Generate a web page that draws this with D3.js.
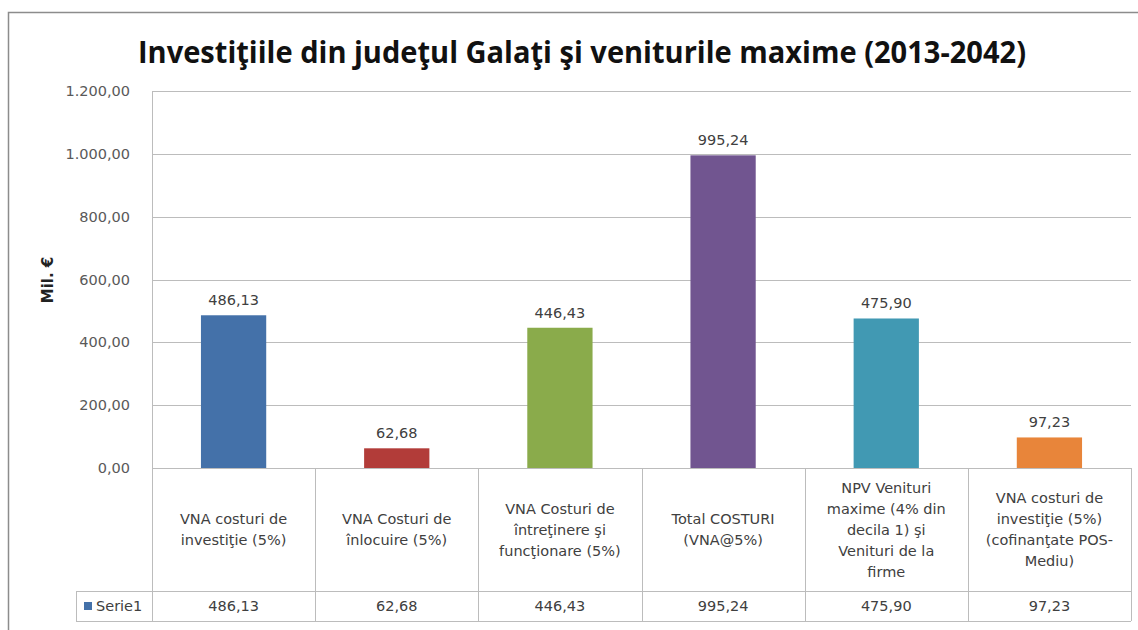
<!DOCTYPE html>
<html><head><meta charset="utf-8">
<script src="https://cdn.jsdelivr.net/npm/d3@7"></script>
<style>body{margin:0;background:#fff}svg{display:block}</style>
</head><body><svg id="c" width="1138" height="630"></svg>
<script>
// ---- data ----
const categoryLines = [
  ["VNA costuri de", "investiţie (5%)"],
  ["VNA Costuri de", "înlocuire (5%)"],
  ["VNA Costuri de", "întreţinere şi", "funcţionare (5%)"],
  ["Total COSTURI", "(VNA@5%)"],
  ["NPV Venituri", "maxime (4% din", "decila 1) şi", "Venituri de la", "firme"],
  ["VNA costuri de", "investiţie (5%)", "(cofinanţate POS-", "Mediu)"]
];
const categories = categoryLines.map(l => l.join(" "));
const values = [486.13, 62.68, 446.43, 995.24, 475.90, 97.23];
const barColors = ["#4471A9", "#B23C39", "#8AAB4B", "#715590", "#4199B3", "#E8853A"];
const yTicks = [0, 200, 400, 600, 800, 1000, 1200];
const seriesName = "Serie1";
const titleText = "Investiţiile din judeţul Galaţi şi veniturile maxime (2013-2042)";
const yTitle = "Mil. €";

// ---- layout ----
const svg = d3.select("#c");
const L = 152, R = 1131, T = 91, B = 468;
const rowCat = 591, rowEnd = 621, legendLeft = 76;
const fontBody = "'DejaVu Sans', sans-serif";

const loc = d3.formatLocale({decimal: ",", thousands: ".", grouping: [3], currency: ["", ""]});
const fmt = loc.format(",.2f");

const x = d3.scaleBand().domain(categories).range([L, R]).paddingInner(0).paddingOuter(0);
const y = d3.scaleLinear().domain([0, 1200]).range([B, T]);

// outer frame
svg.append("rect").attr("x", 8.5).attr("y", 12.5).attr("width", 1140).attr("height", 630)
  .attr("fill", "#fff").attr("stroke", "#8c8c8c").attr("stroke-width", 1.5);

// title
svg.append("text").attr("x", 582).attr("y", 63).attr("text-anchor", "middle")
  .attr("font-family", "'Open Sans', sans-serif").attr("font-weight", "bold").attr("font-size", 31)
  .attr("fill", "#111").attr("textLength", 888).attr("lengthAdjust", "spacingAndGlyphs")
  .text(titleText);

// gridlines
svg.append("g").selectAll("line").data(yTicks.filter(d => d > 0)).join("line")
  .attr("x1", L).attr("x2", R).attr("y1", d => Math.round(y(d)) + 0.5).attr("y2", d => Math.round(y(d)) + 0.5)
  .attr("stroke", "#bcbcbc").attr("stroke-width", 1);

// y axis
const yAxis = svg.append("g").attr("transform", `translate(${L},0)`)
  .call(d3.axisLeft(y).tickValues(yTicks).tickFormat(fmt).tickSize(0).tickPadding(22));
yAxis.select(".domain").attr("stroke", "#bcbcbc");
yAxis.selectAll("text").attr("font-family", fontBody).attr("font-size", 14.5).attr("fill", "#595959");

// y title
svg.append("text").attr("transform", "translate(53,280) rotate(-90)").attr("text-anchor", "middle")
  .attr("font-family", fontBody).attr("font-weight", "bold").attr("font-size", 15).attr("fill", "#222")
  .text(yTitle);

// bars
const bw = x.bandwidth() * 0.4;
svg.append("g").selectAll("rect").data(values).join("rect")
  .attr("x", (d, i) => x(categories[i]) + (x.bandwidth() - bw) / 2)
  .attr("y", d => y(d)).attr("width", bw).attr("height", d => B - y(d))
  .attr("fill", (d, i) => barColors[i]);

// data labels
svg.append("g").selectAll("text").data(values).join("text")
  .attr("x", (d, i) => x(categories[i]) + x.bandwidth() / 2)
  .attr("y", d => y(d) - 10).attr("text-anchor", "middle")
  .attr("font-family", fontBody).attr("font-size", 14.5).attr("fill", "#404040")
  .text(d => fmt(d));

// table lines
const tbl = svg.append("g").attr("stroke", "#bcbcbc").attr("stroke-width", 1);
tbl.append("line").attr("x1", L).attr("x2", R).attr("y1", B + 0.5).attr("y2", B + 0.5);
tbl.append("line").attr("x1", legendLeft).attr("x2", R).attr("y1", rowCat + 0.5).attr("y2", rowCat + 0.5);
tbl.append("line").attr("x1", legendLeft).attr("x2", R).attr("y1", rowEnd + 0.5).attr("y2", rowEnd + 0.5);
tbl.append("line").attr("x1", legendLeft + 0.5).attr("x2", legendLeft + 0.5).attr("y1", rowCat).attr("y2", rowEnd);
const bounds = categories.map(c => x(c)).concat([R]);
tbl.selectAll("line.v").data(bounds).join("line").attr("class", "v")
  .attr("x1", d => Math.round(d) + 0.5).attr("x2", d => Math.round(d) + 0.5)
  .attr("y1", B).attr("y2", rowEnd);

// category labels
const lh = 21;
const cat = svg.append("g");
categoryLines.forEach((lines, i) => {
  const cx = x(categories[i]) + x.bandwidth() / 2;
  const cy = (B + rowCat) / 2;
  const y0 = cy - (lines.length - 1) * lh / 2;
  const t = cat.append("text").attr("text-anchor", "middle")
    .attr("font-family", fontBody).attr("font-size", 14.5).attr("fill", "#404040");
  lines.forEach((s, j) => {
    t.append("tspan").attr("x", cx).attr("y", y0 + j * lh).attr("dy", "0.35em").text(s);
  });
});

// data row values
svg.append("g").selectAll("text").data(values).join("text")
  .attr("x", (d, i) => x(categories[i]) + x.bandwidth() / 2)
  .attr("y", (rowCat + rowEnd) / 2).attr("dy", "0.35em").attr("text-anchor", "middle")
  .attr("font-family", fontBody).attr("font-size", 14.5).attr("fill", "#404040")
  .text(d => fmt(d));

// legend cell
svg.append("rect").attr("x", 84).attr("y", 602).attr("width", 8).attr("height", 8).attr("fill", barColors[0]);
svg.append("text").attr("x", 96).attr("y", (rowCat + rowEnd) / 2).attr("dy", "0.35em")
  .attr("font-family", fontBody).attr("font-size", 14.5).attr("fill", "#404040").text(seriesName);
</script>
</body></html>
